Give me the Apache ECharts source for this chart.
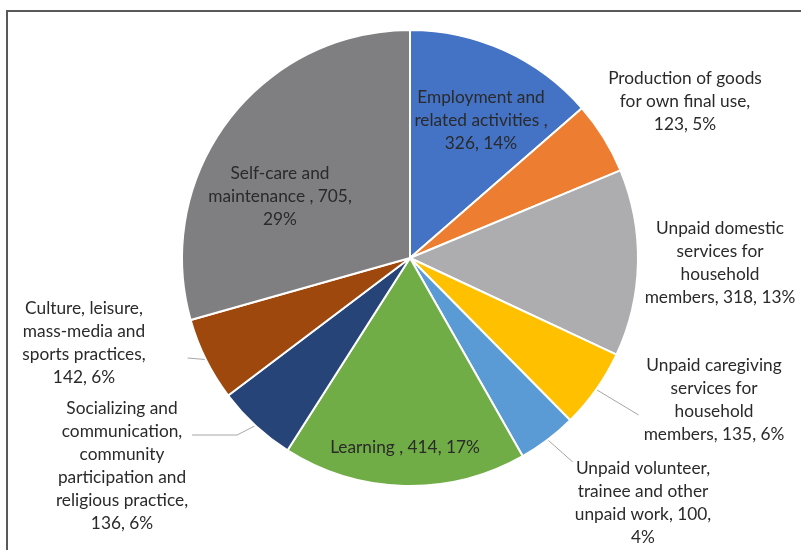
<!DOCTYPE html>
<html>
<head>
<meta charset="utf-8">
<script src="https://cdn.jsdelivr.net/npm/echarts@6/dist/echarts.min.js"></script>
<style>
html,body{margin:0;padding:0;background:#fff;}
#chart{width:801px;height:550px;}
</style>
</head>
<body>
<div id="chart"></div>
<script>
// ---- data ----
var categories = [
  "Employment and\nrelated activities ",
  "Production of goods\nfor own final use",
  "Unpaid domestic\nservices for\nhousehold\nmembers",
  "Unpaid caregiving\nservices for\nhousehold\nmembers",
  "Unpaid volunteer,\ntrainee and other\nunpaid work",
  "Learning ",
  "Socializing and\ncommunication,\ncommunity\nparticipation and\nreligious practice",
  "Culture, leisure,\nmass-media and\nsports practices",
  "Self-care and\nmaintenance "
];
var values = [326, 123, 318, 135, 100, 414, 136, 142, 705];

// ---- presentation ----
var colors = ["#4472C4", "#ED7D31", "#ADADAF", "#FFC000", "#5B9BD5", "#70AD47", "#264478", "#9E480E", "#7F7F81"];
var breakBeforeValue = [true, true, false, false, false, false, true, true, false];
var breakBeforePct   = [false, false, false, false, true, false, false, false, true];
var insideLabel      = [true, false, false, false, false, true, false, false, true];
var showLine         = [false, false, false, true, true, false, true, true, false];
// label box anchor points (center x, top y) and paddings (padding shapes where the leader line attaches)
var labelAnchors = [[481,85.5],[685,66.5],[720,217],[711.5,354],[642,375],[405,435.5],[124,335],[105,297],[280,161.5]];
var labelPads = [0, 0, 0, [0,0,30,5], [82,0,0,2], 0, [62,4,0,0], [0,42,30,0], 0];
var lineLen2 = [0, 0, 0, 0, 0, 0, 45, 0, 0];

var chart = echarts.init(document.getElementById('chart'), null, {renderer: 'canvas'});

var data = categories.map(function (n, i) {
  return {
    name: n,
    value: values[i],
    itemStyle: {color: colors[i]},
    label: {position: insideLabel[i] ? 'inside' : 'outside', padding: labelPads[i]},
    labelLine: {show: showLine[i], length2: lineLen2[i]}
  };
});

chart.setOption({
  animation: false,
  graphic: [{
    type: 'rect',
    shape: {x: 7, y: 11, width: 830, height: 580},
    style: {fill: 'none', stroke: '#595959', lineWidth: 2},
    silent: true
  }],
  series: [{
    type: 'pie',
    center: [410, 258],
    radius: 228,
    startAngle: 90,
    clockwise: true,
    percentPrecision: 0,
    avoidLabelOverlap: false,
    itemStyle: {borderColor: '#ffffff', borderWidth: 2},
    emphasis: {disabled: true},
    data: data,
    label: {
      show: true,
      fontFamily: 'Lato',
      fontSize: 17.3,
      lineHeight: 23,
      color: '#2A2A2A',
      align: 'center',
      formatter: function (p) {
        var i = p.dataIndex;
        return p.name + ',' + (breakBeforeValue[i] ? '\n' : ' ') + p.value + ',' +
          (breakBeforePct[i] ? '\n' : ' ') + Math.round(p.percent) + '%';
      }
    },
    labelLine: {
      show: true,
      length: 10,
      length2: 0,
      smooth: false,
      lineStyle: {color: '#A6A6A6', width: 1}
    },
    labelLayout: function (params) {
      var c = labelAnchors[params.dataIndex];
      return {x: c[0], y: c[1], align: 'center', verticalAlign: 'top'};
    }
  }]
});
</script>
</body>
</html>
